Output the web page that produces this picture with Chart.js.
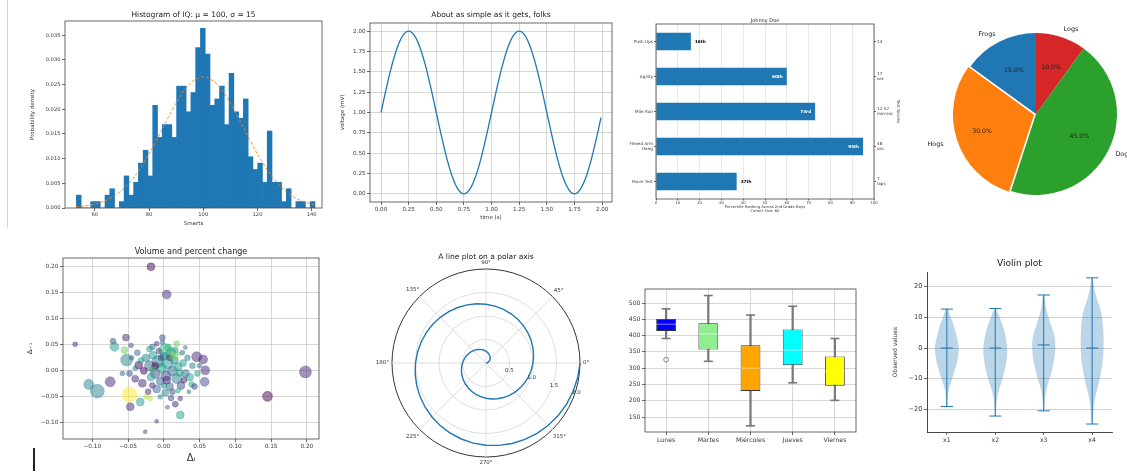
<!DOCTYPE html>
<html>
<head>
<meta charset="utf-8">
<script src="https://cdn.jsdelivr.net/npm/chart.js@4.4.1/dist/chart.umd.min.js"></script>
<style>
  html, body { margin: 0; padding: 0; background: #fff; overflow: hidden; }
  #page { position: relative; width: 1127px; height: 472px; overflow: hidden; background: #fff; }
  canvas { position: absolute; }
  .risco { position: absolute; }
</style>
</head>
<body>
<div id="page">
  <div class="risco" style="left:7px;top:0;width:1px;height:228px;background:#d4d4d4"></div>
  <div class="risco" style="left:33px;top:448px;width:1.5px;height:23px;background:#222"></div>
</div>
<script>
// ---- data: histogram of IQ ----
const histStart = 53.2;
const histBinWidth = 1.76;
const histDensity = [0.0026, 0, 0, 0.0013, 0.0013, 0, 0.0026, 0.0039, 0, 0.0013,
  0.0065, 0.0026, 0.0052, 0.0091, 0.0117, 0.0065, 0.0208, 0.0143, 0.0169, 0.0169,
  0.0143, 0.0247, 0.0247, 0.0195, 0.0234, 0.0325, 0.0364, 0.0312, 0.0208, 0.0221,
  0.0247, 0.0169, 0.0273, 0.0195, 0.0182, 0.0221, 0.0104, 0.0078, 0.0091, 0.0052,
  0.0156, 0.0052, 0.0052, 0.0013, 0.0039, 0, 0.0013, 0.0013, 0, 0.0013];
const pdfX = [53, 55, 60, 65, 70, 75, 80, 85, 90, 95, 100, 105, 110, 115, 120, 125, 130, 135, 140, 141];
const pdfY = [0.0002, 0.0003, 0.00076, 0.00175, 0.0036, 0.00663, 0.01093, 0.01613, 0.0213, 0.02516,
  0.0266, 0.02516, 0.0213, 0.01613, 0.01093, 0.00663, 0.0036, 0.00175, 0.00076, 0.00064];
const iqTicks = [60, 80, 100, 120, 140];
const densityTicks = [0, 0.005, 0.01, 0.015, 0.02, 0.025, 0.03, 0.035];

// ---- data: voltage over time ----
const sineT = [0, 0.05, 0.1, 0.15, 0.2, 0.25, 0.3, 0.35, 0.4, 0.45, 0.5, 0.55, 0.6, 0.65, 0.7, 0.75,
  0.8, 0.85, 0.9, 0.95, 1, 1.05, 1.1, 1.15, 1.2, 1.25, 1.3, 1.35, 1.4, 1.45, 1.5, 1.55, 1.6, 1.65,
  1.7, 1.75, 1.8, 1.85, 1.9, 1.95, 1.99];
const sineV = [1, 1.309, 1.588, 1.809, 1.951, 2, 1.951, 1.809, 1.588, 1.309, 1, 0.691, 0.412, 0.191,
  0.049, 0, 0.049, 0.191, 0.412, 0.691, 1, 1.309, 1.588, 1.809, 1.951, 2, 1.951, 1.809, 1.588, 1.309,
  1, 0.691, 0.412, 0.191, 0.049, 0, 0.049, 0.191, 0.412, 0.691, 0.937];
const quarterTicks = [0, 0.25, 0.5, 0.75, 1, 1.25, 1.5, 1.75, 2];

// ---- data: Johnny Doe percentiles ----
const testNames = ['Pacer Test', ['Flexed Arm', ' Hang'], 'Mile Run', 'Agility', 'Push Ups'];
const testPercentiles = [37, 95, 73, 60, 16];
const testScores = [['7', 'laps'], ['48', 'sec'], ['12:52', 'min:sec'], ['17', 'sec'], '14'];

// ---- data: pie ----
const pieLabels = ['Frogs', 'Hogs', 'Dogs', 'Logs'];
const pieSizes = [15, 30, 45, 10];

// ---- data: volume and percent change ----
const scatterX = [-0.018, 0.004, -0.124, 0.198, 0.145, -0.105, -0.093, -0.075, -0.048, -0.047,
  -0.033, -0.019, -0.010, -0.026, 0.016, 0.023, 0.046, 0.055, 0.058, 0.057,
  0.039, 0.023, -0.071, -0.069, -0.053, -0.046, -0.055, -0.052, -0.048, -0.058,
  -0.035, -0.030, -0.016, -0.002, 0.021, 0.002, -0.016, -0.037, -0.040, -0.025,
  -0.020, -0.015, -0.012, -0.008, -0.005, -0.003, 0.000, 0.003, 0.005, 0.008,
  0.010, 0.012, 0.015, 0.018, 0.020, 0.024, 0.027, 0.030, 0.033, 0.036,
  -0.022, -0.010, 0.002, 0.012, -0.028, -0.018, -0.007, 0.006, -0.002, 0.016,
  0.026, 0.040, 0.043, -0.032, -0.040, -0.012, 0.008, 0.000, 0.020, -0.020,
  0.030, 0.035, -0.005, 0.010, -0.025, 0.047, 0.050, -0.045, 0.014, 0.004,
  -0.016, 0.022, -0.004, 0.028, -0.010, 0.018, 0.005];
const scatterY = [0.200, 0.147, 0.051, -0.002, -0.049, -0.026, -0.039, -0.021, -0.046, -0.069,
  -0.060, -0.053, -0.097, -0.117, -0.064, -0.085, 0.027, 0.022, 0.001, -0.021,
  -0.026, -0.053, 0.057, 0.046, 0.064, 0.049, 0.040, 0.021, -0.005, -0.005,
  0.011, -0.024, -0.028, 0.064, 0.033, 0.040, 0.046, 0.035, -0.015, 0.025,
  0.010, 0.030, -0.005, 0.018, -0.020, 0.005, 0.028, -0.010, 0.015, -0.030,
  0.035, 0.000, 0.020, -0.015, 0.008, -0.028, 0.015, -0.005, 0.025, -0.012,
  -0.040, -0.035, -0.042, -0.040, 0.000, -0.012, 0.038, 0.045, 0.055, 0.040,
  0.035, 0.010, -0.030, 0.020, 0.005, 0.010, 0.025, -0.028, -0.038, 0.042,
  0.045, -0.040, -0.050, -0.052, -0.050, -0.005, 0.010, 0.025, 0.028, -0.018,
  0.002, -0.004, 0.025, -0.018, 0.052, 0.052, -0.070];
const scatterVolume = [0.53, 0.6, 0.33, 0.8, 0.67, 0.67, 0.93, 0.67, 1.0, 0.53,
  0.53, 0.33, 0.27, 0.27, 0.4, 0.53, 0.67, 0.6, 0.6, 0.6,
  0.4, 0.33, 0.4, 0.6, 0.47, 0.33, 0.47, 0.8, 0.4, 0.33,
  0.53, 0.53, 0.4, 0.4, 0.27, 0.87, 0.4, 0.4, 0.47, 0.53,
  0.67, 0.53, 0.67, 0.8, 0.53, 0.67, 0.53, 0.67, 0.8, 0.53,
  0.67, 0.67, 0.53, 0.67, 0.53, 0.53, 0.47, 0.53, 0.4, 0.53,
  0.4, 0.53, 0.47, 0.4, 0.47, 0.53, 0.4, 0.47, 0.33, 0.4,
  0.33, 0.4, 0.4, 0.4, 0.33, 0.47, 0.4, 0.4, 0.33, 0.4,
  0.27, 0.27, 0.33, 0.4, 0.33, 0.4, 0.33, 0.33, 0.53, 0.53,
  0.4, 0.47, 0.4, 0.4, 0.33, 0.4, 0.27];
const scatterRatio = [0.05, 0.1, 0.1, 0.15, 0.05, 0.45, 0.45, 0.1, 0.95, 0.1,
  0.5, 0.9, 0.2, 0.2, 0.1, 0.55, 0.1, 0.1, 0.15, 0.2,
  0.55, 0.15, 0.2, 0.5, 0.15, 0.2, 0.8, 0.45, 0.2, 0.3,
  0.0, 0.1, 0.1, 0.2, 0.75, 0.65, 0.3, 0.35, 0.1, 0.4,
  0.35, 0.5, 0.25, 0.45, 0.3, 0.55, 0.4, 0.2, 0.5, 0.35,
  0.6, 0.3, 0.45, 0.4, 0.55, 0.25, 0.5, 0.35, 0.4, 0.5,
  0.15, 0.3, 0.45, 0.2, 0.05, 0.5, 0.25, 0.7, 0.35, 0.55,
  0.3, 0.45, 0.25, 0.55, 0.4, 0.05, 0.1, 0.6, 0.5, 0.6,
  0.35, 0.3, 0.4, 0.25, 0.9, 0.5, 0.35, 0.3, 0.75, 0.15,
  0.65, 0.55, 0.2, 0.1, 0.15, 0.8, 0.3];
const changeTicks = [-0.10, -0.05, 0, 0.05, 0.10, 0.15, 0.20];

// ---- data: polar spiral (theta = 2*pi*r) ----
const spiralR = [0, 0.025, 0.05, 0.075, 0.1, 0.125, 0.15, 0.175, 0.2, 0.225, 0.25, 0.275, 0.3,
  0.325, 0.35, 0.375, 0.4, 0.425, 0.45, 0.475, 0.5, 0.525, 0.55, 0.575, 0.6, 0.625, 0.65, 0.675,
  0.7, 0.725, 0.75, 0.775, 0.8, 0.825, 0.85, 0.875, 0.9, 0.925, 0.95, 0.975, 1, 1.025, 1.05,
  1.075, 1.1, 1.125, 1.15, 1.175, 1.2, 1.225, 1.25, 1.275, 1.3, 1.325, 1.35, 1.375, 1.4, 1.425,
  1.45, 1.475, 1.5, 1.525, 1.55, 1.575, 1.6, 1.625, 1.65, 1.675, 1.7, 1.725, 1.75, 1.775, 1.8,
  1.825, 1.85, 1.875, 1.9, 1.925, 1.95, 1.975, 2];
const radiusTicks = [0.5, 1, 1.5, 2];
const angleTicks = [0, 45, 90, 135, 180, 225, 270, 315];

// ---- data: box plot ----
const boxDays = ['Lunes', 'Martes', 'Miércoles', 'Jueves', 'Viernes'];
const boxMin = [391, 321, 123, 255, 201];
const boxQ1 = [414, 357, 230, 309, 246];
const boxMedian = [435, 405, 300, 355, 290];
const boxQ3 = [451, 438, 370, 419, 336];
const boxMax = [482, 523, 463, 490, 391];
const boxOutliers = [326, null, null, null, null];
const boxTicks = [150, 200, 250, 300, 350, 400, 450, 500];

// ---- data: violins ----
const violinNames = ['x1', 'x2', 'x3', 'x4'];
const violinLevels = [
  [-19.1, -16, -13, -10, -7, -4, -1, 1, 4, 7, 10, 12.7],
  [-22.2, -19, -16, -13, -10, -6, -2, 1, 4, 7, 10, 12.9],
  [-20.5, -17, -14, -11, -8, -5, -2, 1, 4, 7, 10, 13, 17.3],
  [-24.8, -21, -18, -15, -12, -8, -4, 0, 4, 8, 12, 16, 19, 22.9]
];
const violinHalfWidth = [
  [0.012, 0.02, 0.05, 0.11, 0.17, 0.22, 0.245, 0.24, 0.2, 0.15, 0.08, 0.02],
  [0.01, 0.02, 0.04, 0.09, 0.15, 0.21, 0.245, 0.24, 0.21, 0.16, 0.09, 0.02],
  [0.01, 0.025, 0.05, 0.1, 0.16, 0.2, 0.23, 0.24, 0.22, 0.16, 0.1, 0.05, 0.015],
  [0.01, 0.025, 0.045, 0.08, 0.13, 0.18, 0.22, 0.235, 0.235, 0.22, 0.18, 0.1, 0.05, 0.01]
];
const violinMedian = [0, 0, 1, 0];
const violinTicks = [-20, -10, 0, 10, 20];

// ---- common settings ----
Chart.defaults.font.family = '"DejaVu Sans", sans-serif';
Chart.defaults.font.size = 6;
Chart.defaults.color = '#3a3a3a';
Chart.defaults.animation = false;
Chart.defaults.events = [];
Chart.defaults.plugins.legend.display = false;
Chart.defaults.plugins.tooltip.enabled = false;

const page = document.getElementById('page');
const azul = '#1f77b4';

function novoCanvas(left, top, width, height) {
  const c = document.createElement('canvas');
  c.width = width;
  c.height = height;
  c.style.left = left + 'px';
  c.style.top = top + 'px';
  c.style.width = width + 'px';
  c.style.height = height + 'px';
  page.appendChild(c);
  return c.getContext('2d');
}

const fixWidth = w => scale => { scale.width = w; };
const fixHeight = h => scale => { scale.height = h; };
const tickValues = values => scale => { scale.ticks = values.map(value => ({ value })); };
const menos = s => String(s).replace('-', '\u2212');

function grade(onChart, color) {
  return { drawOnChartArea: onChart, color: color || '#cdcdcd', lineWidth: 0.8, drawTicks: true,
    tickLength: 3, tickColor: '#444', tickWidth: 0.8, offset: false };
}
function titulo(text, size, below) {
  return { display: true, text, color: '#222', fullSize: false, font: { size, weight: 'normal' },
    padding: { top: 0, bottom: below } };
}
function rotulo(text, size, pad) {
  return { display: true, text, color: '#333', font: { size }, padding: pad };
}

// black frame around the plot area, like matplotlib spines
const frame = {
  id: 'frame',
  afterDatasetsDraw(chart) {
    const { ctx, chartArea: a } = chart;
    ctx.save();
    ctx.strokeStyle = '#444';
    ctx.lineWidth = 0.8;
    ctx.strokeRect(a.left, a.top, a.right - a.left, a.bottom - a.top);
    ctx.restore();
  }
};

// 1. Histogram
new Chart(novoCanvas(28, 10, 298, 217), {
  type: 'bar',
  data: {
    datasets: [
      { type: 'line', data: pdfX.map((x, i) => ({ x, y: pdfY[i] })), borderColor: '#ff7f0e',
        borderWidth: 0.9, borderDash: [3, 2], pointRadius: 0, tension: 0.3 },
      { data: histDensity.map((d, i) => ({ x: histStart + histBinWidth * (i + 0.5), y: d })),
        backgroundColor: azul, barPercentage: 1, categoryPercentage: 1 }
    ]
  },
  options: {
    responsive: false,
    layout: { padding: { top: 0.5, right: 4 } },
    plugins: { title: titulo('Histogram of IQ: μ = 100, σ = 15', 7.5, 1.5) },
    scales: {
      x: { type: 'linear', offset: false, min: 49, max: 143.8, afterBuildTicks: tickValues(iqTicks),
        afterFit: fixHeight(19), grid: grade(false), border: { display: false },
        ticks: { font: { size: 5.2 }, padding: 1, maxRotation: 0, autoSkip: false },
        title: rotulo('Smarts', 5.5, 0) },
      y: { min: 0, max: 0.0379, afterBuildTicks: tickValues(densityTicks), afterFit: fixWidth(37),
        grid: grade(false), border: { display: false },
        ticks: { font: { size: 5.2 }, padding: 1.5, callback: v => v.toFixed(3) },
        title: rotulo('Probability density', 5.5, { top: 1.7, bottom: 0 }) }
    }
  },
  plugins: [frame]
});

// 2. Sine wave
new Chart(novoCanvas(337, 10, 279, 211), {
  type: 'scatter',
  data: {
    datasets: [{ data: sineT.map((t, i) => ({ x: t, y: sineV[i] })), showLine: true, borderColor: azul,
      borderWidth: 1.3, pointRadius: 0, cubicInterpolationMode: 'monotone' }]
  },
  options: {
    responsive: false,
    layout: { padding: { top: 0.5, right: 4 } },
    plugins: { title: titulo('About as simple as it gets, folks', 7.5, 3.5) },
    scales: {
      x: { min: -0.0995, max: 2.0895, afterBuildTicks: tickValues(quarterTicks), afterFit: fixHeight(19),
        grid: grade(true), border: { display: false },
        ticks: { font: { size: 5.6 }, padding: 1.5, maxRotation: 0, autoSkip: false, callback: v => v.toFixed(2) },
        title: rotulo('time (s)', 5.5, 0) },
      y: { min: -0.1, max: 2.1, afterBuildTicks: tickValues(quarterTicks), afterFit: fixWidth(33),
        grid: grade(true), border: { display: false },
        ticks: { font: { size: 5.6 }, padding: 1.5, callback: v => v.toFixed(2) },
        title: rotulo('voltage (mV)', 5.5, { top: 2.7, bottom: 0 }) }
    }
  },
  plugins: [frame]
});

// 3. Percentile ranking, horizontal bars
function ordinal(n) {
  const fim = { 1: 'st', 2: 'nd', 3: 'rd' };
  const v = n % 100;
  return n + (v >= 11 && v <= 13 ? 'th' : (fim[n % 10] || 'th'));
}
const rankText = {
  id: 'rankText',
  afterDatasetsDraw(chart) {
    const { ctx } = chart;
    ctx.save();
    ctx.font = 'bold 4.2px "DejaVu Sans"';
    ctx.textBaseline = 'middle';
    chart.getDatasetMeta(0).data.forEach((bar, i) => {
      const p = testPercentiles[i];
      if (p > 40) {
        ctx.fillStyle = '#fff';
        ctx.textAlign = 'right';
        ctx.fillText(ordinal(p), bar.x - 4, bar.y);
      } else {
        ctx.fillStyle = '#000';
        ctx.textAlign = 'left';
        ctx.fillText(ordinal(p), bar.x + 4, bar.y);
      }
    });
    ctx.restore();
  }
};
new Chart(novoCanvas(620, 16, 285, 198), {
  type: 'bar',
  data: {
    labels: testNames,
    datasets: [{ data: testPercentiles, backgroundColor: azul, barPercentage: 0.5, categoryPercentage: 1 }]
  },
  options: {
    responsive: false,
    indexAxis: 'y',
    layout: { padding: { top: 1.5 } },
    plugins: { title: titulo('Johnny Doe', 5, 0.5) },
    scales: {
      x: { min: 0, max: 100, ticks: { stepSize: 10, font: { size: 3.8 }, padding: 0.5, maxRotation: 0, autoSkip: false },
        afterFit: fixHeight(15), grid: Object.assign(grade(true, '#e2e2e2'), { tickLength: 1.5 }), border: { display: false },
        title: rotulo(['Percentile Ranking Across 2nd Grade Boys', 'Cohort Size: 62'], 3.8, 0.6) },
      y: { reverse: true, afterFit: fixWidth(36), grid: Object.assign(grade(false), { tickLength: 2 }),
        border: { display: false }, ticks: { font: { size: 4.2 }, padding: 1, autoSkip: false } },
      y2: { type: 'category', labels: testScores, position: 'right', reverse: true, offset: true,
        afterFit: fixWidth(31), grid: Object.assign(grade(false), { tickLength: 2 }), border: { display: false },
        ticks: { font: { size: 4.2 }, padding: 1, autoSkip: false },
        title: rotulo('Test Scores', 4.2, { top: 4.5, bottom: 0 }) }
    }
  },
  plugins: [frame, rankText]
});

// 4. Pie (matplotlib goes counter-clockwise, Chart.js clockwise, so the order is reversed)
const pieText = {
  id: 'pieText',
  afterDatasetsDraw(chart) {
    const { ctx } = chart;
    const ds = chart.data.datasets[0];
    const total = ds.data.reduce((a, b) => a + b, 0);
    ctx.save();
    ctx.textBaseline = 'middle';
    ctx.fillStyle = '#222';
    chart.getDatasetMeta(0).data.forEach((arc, i) => {
      const mid = (arc.startAngle + arc.endAngle) / 2;
      const off = arc.options.offset || 0;
      const cx = arc.x + Math.cos(mid) * off;
      const cy = arc.y + Math.sin(mid) * off;
      const r = arc.outerRadius;
      ctx.font = '6.2px "DejaVu Sans"';
      ctx.textAlign = 'center';
      ctx.fillText((ds.data[i] / total * 100).toFixed(1) + '%', cx + Math.cos(mid) * r * 0.6, cy + Math.sin(mid) * r * 0.6);
      ctx.font = '6.4px "DejaVu Sans"';
      ctx.textAlign = Math.cos(mid) < 0 ? 'right' : 'left';
      ctx.fillText(chart.data.labels[i], cx + Math.cos(mid) * r * 1.1, cy + Math.sin(mid) * r * 1.1);
    });
    ctx.restore();
  }
};
new Chart(novoCanvas(916, 0, 240, 228), {
  type: 'pie',
  data: {
    labels: pieLabels.slice().reverse(),
    datasets: [{
      data: pieSizes.slice().reverse(),
      backgroundColor: ['#1f77b4', '#ff7f0e', '#2ca02c', '#d62728'].reverse(),
      borderWidth: 0,
      offset: pieLabels.map(l => (l === 'Hogs' ? 8.1 : 0)).reverse()
    }]
  },
  options: { responsive: false, radius: 81, layout: { padding: 0 } },
  plugins: [pieText]
});

// 5. Volume and percent change
const viridisStops = ['#440154', '#482878', '#3e4989', '#31688e', '#26828e', '#1f9e89', '#35b779', '#6ece58', '#b5de2b', '#fde725'];
function viridis(v, alpha) {
  const n = parseInt(viridisStops[Math.round(v * 9)].slice(1), 16);
  return `rgba(${n >> 16}, ${(n >> 8) & 255}, ${n & 255}, ${alpha})`;
}
new Chart(novoCanvas(25, 247, 302, 217), {
  type: 'bubble',
  data: {
    datasets: [{
      data: scatterX.map((x, i) => ({ x, y: scatterY[i], r: scatterVolume[i] * 7.5 })),
      backgroundColor: scatterRatio.map(v => viridis(v, 0.5)),
      borderColor: scatterRatio.map(v => viridis(v, 0.55)),
      borderWidth: 0.5
    }]
  },
  options: {
    responsive: false,
    layout: { padding: { top: 0.2, right: 5 } },
    plugins: { title: titulo('Volume and percent change', 8, 1.2) },
    scales: {
      x: { min: -0.141, max: 0.217, afterBuildTicks: tickValues(changeTicks), afterFit: fixHeight(25),
        grid: grade(true), border: { display: false },
        ticks: { font: { size: 5.8 }, padding: 1.5, maxRotation: 0, autoSkip: false, callback: v => menos(v.toFixed(2)) },
        title: rotulo('Δᵢ', 10, 0) },
      y: { min: -0.131, max: 0.217, afterBuildTicks: tickValues(changeTicks), afterFit: fixWidth(38),
        grid: grade(true), border: { display: false },
        ticks: { font: { size: 5.8 }, padding: 1.5, callback: v => menos(v.toFixed(2)) },
        title: rotulo('Δᵢ₊₁', 6.5, { top: 1.1, bottom: 0 }) }
    }
  },
  plugins: [frame]
});

// 6. Spiral on a polar axis: radar scale, 40 spokes of 9 degrees, index 0 at 90 degrees
const spokes = 40;
const spokeOf = deg => Math.round((((90 - deg) / 9) % spokes + spokes) % spokes);
const polarLabels = [];
for (let i = 0; i < spokes; i++) polarLabels.push(((90 - 9 * i) % 360 + 360) % 360 + '°');
const spiralParts = [0, 1, 2, 3].map(() => new Array(spokes).fill(null));
spiralR.forEach(r => {
  const theta = Math.round(r * 360);
  const idx = spokeOf(theta % 360);
  const part = Math.floor(theta / 180);
  if (part <= 3) spiralParts[part][idx] = r;
  if (theta % 180 === 0 && part > 0) spiralParts[part - 1][idx] = r;
});
const polarText = {
  id: 'polarText',
  afterDraw(chart) {
    const { ctx } = chart;
    const s = chart.scales.r;
    ctx.save();
    ctx.font = '5.5px "DejaVu Sans"';
    ctx.fillStyle = '#333';
    ctx.textAlign = 'center';
    ctx.textBaseline = 'middle';
    angleTicks.forEach(deg => {
      const idx = spokeOf(deg);
      const a = s.getIndexAngle(idx) - Math.PI / 2;
      const text = deg + '°';
      const w = ctx.measureText(text).width;
      const half = Math.abs(Math.cos(a)) * w / 2 + Math.abs(Math.sin(a)) * 3;
      const p = s.getPointPosition(idx, s.drawingArea + 3 + half);
      ctx.fillText(text, p.x, p.y);
    });
    const tilt = 18 * Math.PI / 180;
    radiusTicks.forEach(v => {
      const d = s.getDistanceFromCenterForValue(v) + 1;
      ctx.fillText(v.toFixed(1), s.xCenter + Math.cos(tilt) * d, s.yCenter + Math.sin(tilt) * d);
    });
    ctx.restore();
  }
};
new Chart(novoCanvas(370, 250, 230, 222), {
  type: 'radar',
  data: {
    labels: polarLabels,
    datasets: spiralParts.map(part => ({ data: part, borderColor: azul, borderWidth: 1.4, pointRadius: 0,
      fill: false, spanGaps: false, tension: 0 }))
  },
  options: {
    responsive: false,
    layout: { padding: { top: 2.5, left: 22, right: 20, bottom: 15 } },
    plugins: { title: titulo('A line plot on a polar axis', 7.5, 7.5) },
    scales: {
      r: {
        min: 0, max: 2,
        ticks: { display: false, stepSize: 0.5 },
        pointLabels: { display: false },
        grid: { circular: true, color: c => (c.index === 4 ? '#333' : '#d6d6d6'), lineWidth: c => (c.index === 4 ? 1 : 0.8) },
        angleLines: { color: c => (c.index % 5 === 0 ? '#d6d6d6' : 'rgba(0,0,0,0)'), lineWidth: 0.8 }
      }
    }
  },
  plugins: [polarText]
});

// 7. Box plot built from floating bars and line markers
const cinza = '#7a7a7a';
new Chart(novoCanvas(620, 278, 247, 174), {
  type: 'bar',
  data: {
    labels: boxDays,
    datasets: [
      { type: 'line', data: boxMedian, showLine: false, pointStyle: 'line', pointRadius: 10,
        pointBorderColor: 'rgba(255,255,255,0.5)', pointBorderWidth: 1, order: 0 },
      { type: 'line', data: boxOutliers, showLine: false, pointStyle: 'circle', pointRadius: 2.4,
        pointBackgroundColor: 'rgba(0,0,0,0)', pointBorderColor: cinza, pointBorderWidth: 0.9, order: 0 },
      { data: boxDays.map((d, i) => [boxQ1[i], boxQ3[i]]),
        backgroundColor: ['#0000ff', '#90ee90', '#ffa500', '#00ffff', '#ffff00'],
        borderColor: '#333', borderWidth: 0.9, borderSkipped: false,
        barPercentage: 0.47, categoryPercentage: 1, grouped: false, order: 1 },
      { type: 'line', data: boxMax, showLine: false, pointStyle: 'line', pointRadius: 4.5,
        pointBorderColor: cinza, pointBorderWidth: 1.6, order: 2 },
      { type: 'line', data: boxMin, showLine: false, pointStyle: 'line', pointRadius: 4.5,
        pointBorderColor: cinza, pointBorderWidth: 1.6, order: 2 },
      { data: boxDays.map((d, i) => [boxMin[i], boxMax[i]]), backgroundColor: cinza,
        barThickness: 1.6, grouped: false, order: 3 }
    ]
  },
  options: {
    responsive: false,
    layout: { padding: { top: 5, right: 5 } },
    scales: {
      x: { afterFit: fixHeight(20), grid: grade(true), border: { display: false },
        ticks: { font: { size: 6.2 }, padding: 2, maxRotation: 0, autoSkip: false } },
      y: { min: 104, max: 543, afterBuildTicks: tickValues(boxTicks), afterFit: fixWidth(25),
        grid: grade(true), border: { display: false },
        ticks: { font: { size: 6.2 }, padding: 1.5 } }
    }
  },
  plugins: [frame]
});

// 8. Violin plot
const violinSets = [];
violinNames.forEach((name, k) => {
  const pos = k + 1;
  const lv = violinLevels[k];
  const hw = violinHalfWidth[k];
  const lo = lv[0];
  const hi = lv[lv.length - 1];
  const direita = lv.map((y, j) => ({ x: pos + hw[j], y }));
  const esquerda = lv.map((y, j) => ({ x: pos - hw[j], y })).reverse();
  violinSets.push({ data: direita.concat(esquerda), showLine: true, fill: 'shape',
    backgroundColor: 'rgba(31,119,180,0.3)', borderWidth: 0, pointRadius: 0, tension: 0.3 });
  const linha = pts => ({ data: pts, showLine: true, fill: false, borderColor: azul, borderWidth: 1, pointRadius: 0 });
  violinSets.push(linha([{ x: pos, y: lo }, { x: pos, y: hi }]));
  violinSets.push(linha([{ x: pos - 0.125, y: lo }, { x: pos + 0.125, y: lo }]));
  violinSets.push(linha([{ x: pos - 0.125, y: hi }, { x: pos + 0.125, y: hi }]));
  violinSets.push(linha([{ x: pos - 0.125, y: violinMedian[k] }, { x: pos + 0.125, y: violinMedian[k] }]));
});
new Chart(novoCanvas(888, 255, 229, 197), {
  type: 'scatter',
  data: { datasets: violinSets },
  options: {
    responsive: false,
    layout: { padding: { top: 3.6, right: 5 } },
    plugins: { title: titulo('Violin plot', 9, 2.6) },
    scales: {
      x: { min: 0.59, max: 4.41, afterBuildTicks: tickValues([1, 2, 3, 4]), afterFit: fixHeight(20),
        grid: grade(false), border: { display: true, color: '#333', width: 0.9 },
        ticks: { font: { size: 6.2 }, padding: 2, maxRotation: 0, autoSkip: false, callback: v => violinNames[v - 1] } },
      y: { min: -27.4, max: 24.8, afterBuildTicks: tickValues(violinTicks), afterFit: fixWidth(39),
        grid: grade(true, '#c4c4c4'), border: { display: true, color: '#333', width: 0.9 },
        ticks: { font: { size: 6.6 }, padding: 1.5, callback: v => menos(v) },
        title: rotulo('Observed values', 6, { top: 3.4, bottom: 0 }) }
    }
  }
});
</script>
</body>
</html>
